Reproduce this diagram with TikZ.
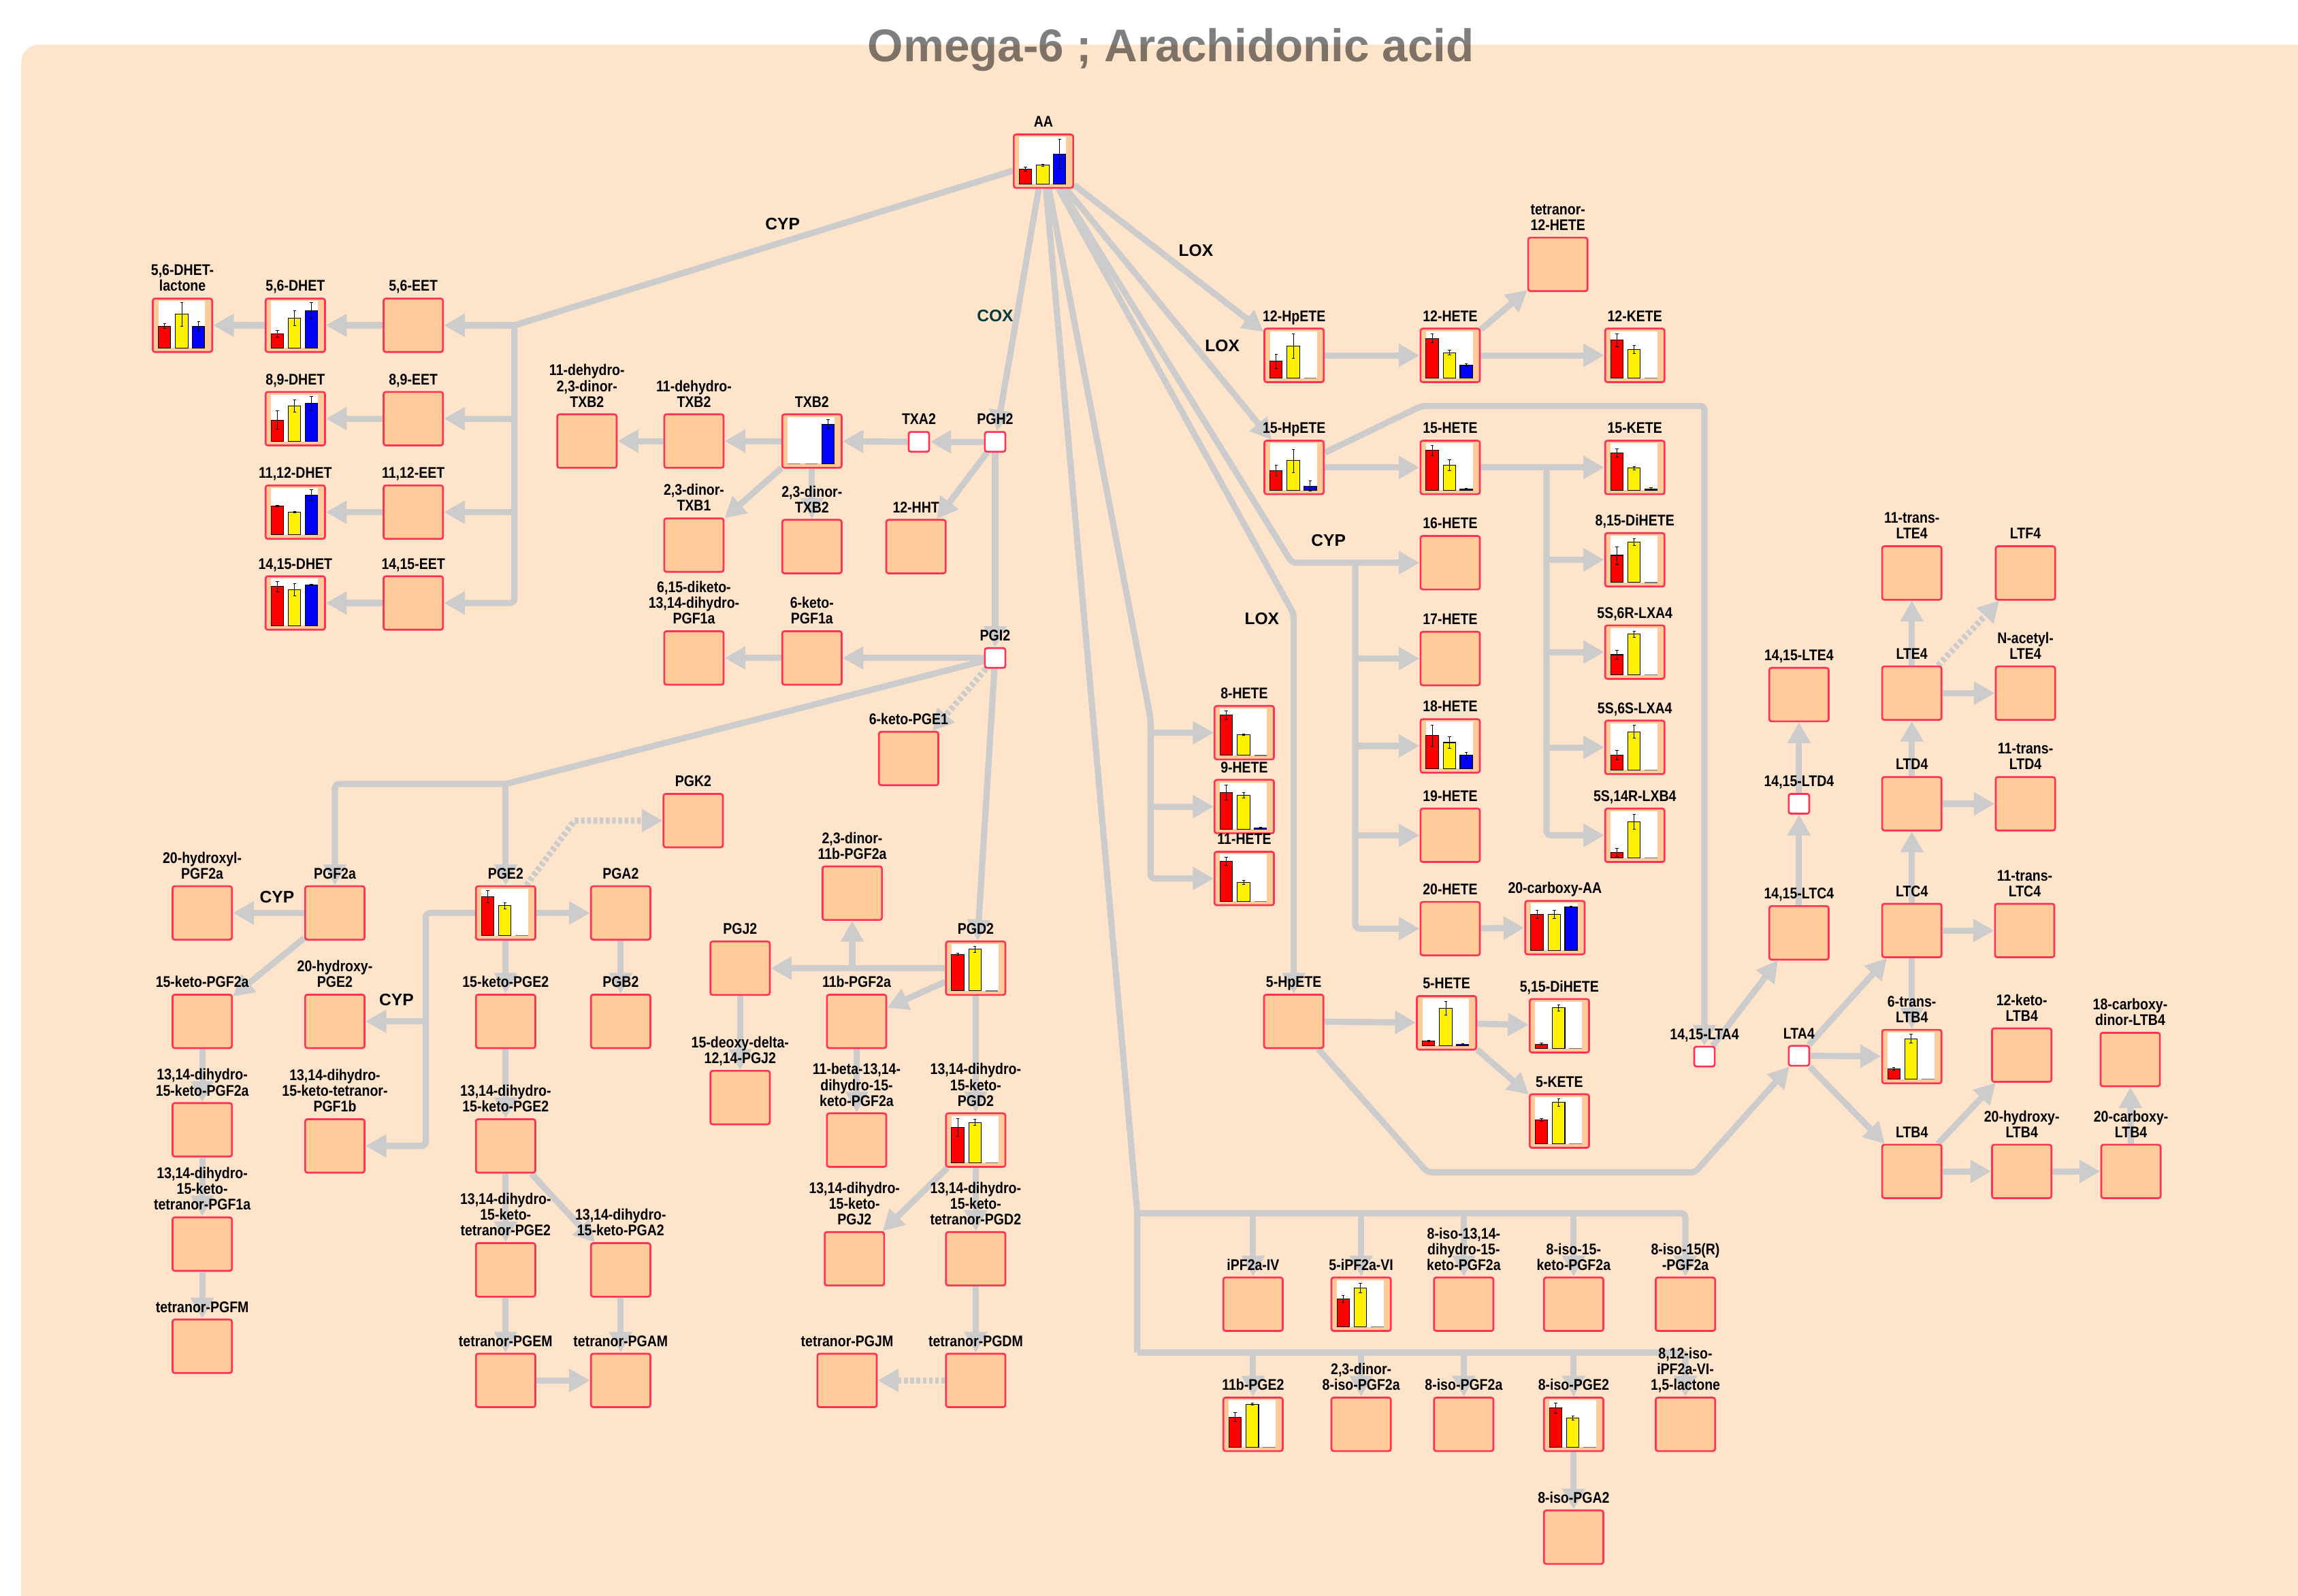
\documentclass[tikz,border=0pt]{standalone}
\usepackage{fontspec}
\setmainfont{Liberation Sans}
\newfontfamily\lblfont{Liberation Sans}[FakeStretch=0.86]
\usetikzlibrary{arrows.meta}
\definecolor{bgpeach}{HTML}{FEE4CB}
\definecolor{boxfill}{HTML}{FFCB99}
\definecolor{boxred}{HTML}{FF3355}
\definecolor{flowgrey}{HTML}{CCCCCC}
\definecolor{coxteal}{HTML}{0B3A3A}
\pgfdeclarelayer{bg}
\pgfdeclarelayer{edges}
\pgfsetlayers{bg,edges,main}
\tikzset{
	met/.style={draw=boxred, fill=boxfill, line width=0.25mm, rounded corners=0.3mm, minimum width=8.1mm, minimum height=7.3mm, inner sep=0pt},
	hub/.style={draw=boxred, fill=white, line width=0.25mm, rounded corners=0.3mm, minimum width=2.8mm, minimum height=2.7mm, inner sep=0pt},
	lbl/.style={font=\lblfont\bfseries\fontsize{6pt}{6.1pt}\selectfont, align=center, inner sep=0pt, text depth=0pt},
	enz/.style={font=\bfseries\fontsize{6.5pt}{7pt}\selectfont, inner sep=0pt},
	link/.style={draw=flowgrey, line width=0.85mm},
	corner/.style={rounded corners=0.6mm},
	flow/.style={link, -{Triangle[length=2.85mm, width=3mm]}},
	dflow/.style={flow, dash pattern=on 0.5mm off 0.35mm}
}
\newcommand{\onebar}[4]{%
	\ifdim #2pt>0.05pt
		\filldraw[fill=#4, draw=black, line width=0.1mm] (#1,15.5) rectangle ++(8.5,-#2);
		\draw[line width=0.07mm] ({#1+4.25},{15.5-#2-#3}) -- ({#1+4.25},{15.5-#2+#3})
			({#1+3.25},{15.5-#2-#3}) -- ({#1+5.25},{15.5-#2-#3})
			({#1+3.25},{15.5-#2+#3}) -- ({#1+5.25},{15.5-#2+#3});
	\else
		\draw[black!55, line width=0.12mm] (#1,15.5) -- ++(8.5,0);
	\fi}
\newcommand{\barpanel}[7]{%
	\begin{scope}[shift={(#1.center)}]
		\fill[white] (-16.5,-16.5) rectangle (15.5,15.5);
		\onebar{-16.5}{#2}{#3}{red}
		\onebar{-4.75}{#4}{#5}{yellow}
		\onebar{6.75}{#6}{#7}{blue}
	\end{scope}}
\begin{document}
\begin{tikzpicture}[x=0.2mm, y=-0.2mm, label distance=0.8mm]
	\useasboundingbox (0,0) rectangle (1568,1089);
	\begin{pgfonlayer}{bg}
		\fill[white] (0,0) rectangle (1568,1089);
		\fill[bgpeach, rounded corners=2.4mm] (14.5,30.5) rectangle (1620,1140);
	\end{pgfonlayer}
	\node[met, label={[lbl]above:{AA}}] (aa) at (712,110) {};
	\node[met, label={[lbl]above:{5,6-DHET-\\lactone}}] (dhet56l) at (124.5,222) {};
	\node[met, label={[lbl]above:{5,6-DHET}}] (dhet56) at (201.5,222) {};
	\node[met, label={[lbl]above:{5,6-EET}}] (eet56) at (282,222) {};
	\node[met, label={[lbl]above:{8,9-DHET}}] (dhet89) at (201.5,285.7) {};
	\node[met, label={[lbl]above:{8,9-EET}}] (eet89) at (282,285.7) {};
	\node[met, label={[lbl]above:{11,12-DHET}}] (dhet1112) at (201.5,349.5) {};
	\node[met, label={[lbl]above:{11,12-EET}}] (eet1112) at (282,349.5) {};
	\node[met, label={[lbl]above:{14,15-DHET}}] (dhet1415) at (201.5,411.5) {};
	\node[met, label={[lbl]above:{14,15-EET}}] (eet1415) at (282,411.5) {};
	\node[met, label={[lbl]above:{11-dehydro-\\2,3-dinor-\\TXB2}}] (dhdtxb2) at (400.5,301) {};
	\node[met, label={[lbl]above:{11-dehydro-\\TXB2}}] (dhtxb2) at (473.5,301) {};
	\node[met, label={[lbl]above:{TXB2}}] (txb2) at (554,301) {};
	\node[hub, label={[lbl]above:{TXA2}}] (txa2) at (627,301.5) {};
	\node[hub, label={[lbl]above:{PGH2}}] (pgh2) at (679,301.5) {};
	\node[met, label={[lbl]above:{2,3-dinor-\\TXB1}}] (dtxb1) at (473.5,372) {};
	\node[met, label={[lbl]above:{2,3-dinor-\\TXB2}}] (dtxb2) at (554,373) {};
	\node[met, label={[lbl]above:{12-HHT}}] (hht) at (625,373) {};
	\node[met, label={[lbl]above:{6,15-diketo-\\13,14-dihydro-\\PGF1a}}] (dkpgf1a) at (473.5,449) {};
	\node[met, label={[lbl]above:{6-keto-\\PGF1a}}] (kpgf1a) at (554,449) {};
	\node[hub, label={[lbl]above:{PGI2}}] (pgi2) at (679,449) {};
	\node[met, label={[lbl]above:{6-keto-PGE1}}] (kpge1) at (620,517.6) {};
	\node[met, label={[lbl]above:{PGK2}}] (pgk2) at (473,560) {};
	\node[met, label={[lbl]above:{20-hydroxyl-\\PGF2a}}] (ohpgf2a) at (138,623) {};
	\node[met, label={[lbl]above:{PGF2a}}] (pgf2a) at (228.5,623) {};
	\node[met, label={[lbl]above:{PGE2}}] (pge2) at (345,623) {};
	\node[met, label={[lbl]above:{PGA2}}] (pga2) at (423.5,623) {};
	\node[met, label={[lbl]above:{15-keto-PGF2a}}] (kpgf2a) at (138,697) {};
	\node[met, label={[lbl]above:{20-hydroxy-\\PGE2}}] (ohpge2) at (228.5,697) {};
	\node[met, label={[lbl]above:{15-keto-PGE2}}] (kpge2) at (345,697) {};
	\node[met, label={[lbl]above:{PGB2}}] (pgb2) at (423.5,697) {};
	\node[met, label={[lbl]above:{13,14-dihydro-\\15-keto-PGF2a}}] (dkpgf2a) at (138,771) {};
	\node[met, label={[lbl]above:{13,14-dihydro-\\15-keto-tetranor-\\PGF1b}}] (tpgf1b) at (228.5,782) {};
	\node[met, label={[lbl]above:{13,14-dihydro-\\15-keto-PGE2}}] (dkpge2) at (345,782) {};
	\node[met, label={[lbl]above:{13,14-dihydro-\\15-keto-\\tetranor-PGF1a}}] (tpgf1a) at (138,849) {};
	\node[met, label={[lbl]above:{13,14-dihydro-\\15-keto-\\tetranor-PGE2}}] (tpge2) at (345,866.6) {};
	\node[met, label={[lbl]above:{13,14-dihydro-\\15-keto-PGA2}}] (dkpga2) at (423.5,866.6) {};
	\node[met, label={[lbl]above:{tetranor-PGFM}}] (pgfm) at (138,918.7) {};
	\node[met, label={[lbl]above:{tetranor-PGEM}}] (pgem) at (345,942) {};
	\node[met, label={[lbl]above:{tetranor-PGAM}}] (pgam) at (423.5,942) {};
	\node[met, label={[lbl]above:{2,3-dinor-\\11b-PGF2a}}] (d11bpgf) at (581.5,609.5) {};
	\node[met, label={[lbl]above:{PGJ2}}] (pgj2) at (505,660.7) {};
	\node[met, label={[lbl]above:{PGD2}}] (pgd2) at (665.75,660.7) {};
	\node[met, label={[lbl]above:{11b-PGF2a}}] (b11pgf) at (584.5,697) {};
	\node[met, label={[lbl]above:{15-deoxy-delta-\\12,14-PGJ2}}] (dpgj2) at (505,749) {};
	\node[met, label={[lbl]above:{11-beta-13,14-\\dihydro-15-\\keto-PGF2a}}] (b11dk) at (584.5,778) {};
	\node[met, label={[lbl]above:{13,14-dihydro-\\15-keto-\\PGD2}}] (dkpgd2) at (665.75,778) {};
	\node[met, label={[lbl]above:{13,14-dihydro-\\15-keto-\\PGJ2}}] (dkpgj2) at (583,859) {};
	\node[met, label={[lbl]above:{13,14-dihydro-\\15-keto-\\tetranor-PGD2}}] (tpgd2) at (665.75,859) {};
	\node[met, label={[lbl]above:{tetranor-PGJM}}] (pgjm) at (578,942) {};
	\node[met, label={[lbl]above:{tetranor-PGDM}}] (pgdm) at (665.75,942) {};
	\node[met, label={[lbl]above:{12-HpETE}}] (hpete12) at (883,242.5) {};
	\node[met, label={[lbl]above:{12-HETE}}] (hete12) at (989.5,242.5) {};
	\node[met, label={[lbl]above:{12-KETE}}] (kete12) at (1115.5,242.5) {};
	\node[met, label={[lbl]above:{tetranor-\\12-HETE}}] (thete12) at (1063,180.4) {};
	\node[met, label={[lbl]above:{15-HpETE}}] (hpete15) at (883,319) {};
	\node[met, label={[lbl]above:{15-HETE}}] (hete15) at (989.5,319) {};
	\node[met, label={[lbl]above:{15-KETE}}] (kete15) at (1115.5,319) {};
	\node[met, label={[lbl]above:{16-HETE}}] (hete16) at (989.5,384) {};
	\node[met, label={[lbl]above:{17-HETE}}] (hete17) at (989.5,449.4) {};
	\node[met, label={[lbl]above:{18-HETE}}] (hete18) at (989.5,509) {};
	\node[met, label={[lbl]above:{19-HETE}}] (hete19) at (989.5,570) {};
	\node[met, label={[lbl]above:{20-HETE}}] (hete20) at (989.5,633.7) {};
	\node[met, label={[lbl]above:{20-carboxy-AA}}] (caa) at (1061,633) {};
	\node[met, label={[lbl]above:{8,15-DiHETE}}] (dihete815) at (1115.5,382) {};
	\node[met, label={[lbl]above:{5S,6R-LXA4}}] (lxa4r) at (1115.5,445) {};
	\node[met, label={[lbl]above:{5S,6S-LXA4}}] (lxa4s) at (1115.5,510) {};
	\node[met, label={[lbl]above:{5S,14R-LXB4}}] (lxb4) at (1115.5,570) {};
	\node[met, label={[lbl]above:{8-HETE}}] (hete8) at (849,500) {};
	\node[met, label={[lbl]above:{9-HETE}}] (hete9) at (849,550.4) {};
	\node[met, label={[lbl]above:{11-HETE}}] (hete11) at (849,599.5) {};
	\node[met, label={[lbl]above:{5-HpETE}}] (hpete5) at (882.75,697) {};
	\node[met, label={[lbl]above:{5-HETE}}] (hete5) at (987,698) {};
	\node[met, label={[lbl]above:{5,15-DiHETE}}] (dihete515) at (1064,700) {};
	\node[met, label={[lbl]above:{5-KETE}}] (kete5) at (1064,765) {};
	\node[hub, label={[lbl]above:{14,15-LTA4}}] (lta4b) at (1163,721) {};
	\node[hub, label={[lbl]above:{LTA4}}] (lta4) at (1227.5,720.5) {};
	\node[met, label={[lbl]above:{14,15-LTC4}}] (ltc4b) at (1227.5,636.6) {};
	\node[hub, label={[lbl]above:{14,15-LTD4}}] (ltd4b) at (1227.5,548.5) {};
	\node[met, label={[lbl]above:{14,15-LTE4}}] (lte4b) at (1227.5,474) {};
	\node[met, label={[lbl]above:{11-trans-\\LTE4}}] (tlte4) at (1304.5,391) {};
	\node[met, label={[lbl]above:{LTF4}}] (ltf4) at (1382,391) {};
	\node[met, label={[lbl]above:{LTE4}}] (lte4) at (1304.5,473) {};
	\node[met, label={[lbl]above:{N-acetyl-\\LTE4}}] (nlte4) at (1382,473) {};
	\node[met, label={[lbl]above:{LTD4}}] (ltd4) at (1304.5,548.5) {};
	\node[met, label={[lbl]above:{11-trans-\\LTD4}}] (tltd4) at (1382,548.5) {};
	\node[met, label={[lbl]above:{LTC4}}] (ltc4) at (1304.5,635) {};
	\node[met, label={[lbl]above:{11-trans-\\LTC4}}] (tltc4) at (1381.5,635) {};
	\node[met, label={[lbl]above:{6-trans-\\LTB4}}] (tltb4) at (1304.5,721) {};
	\node[met, label={[lbl]above:{12-keto-\\LTB4}}] (kltb4) at (1379.5,720) {};
	\node[met, label={[lbl]above:{18-carboxy-\\dinor-LTB4}}] (cdltb4) at (1453.5,723) {};
	\node[met, label={[lbl]above:{LTB4}}] (ltb4) at (1304.5,799.4) {};
	\node[met, label={[lbl]above:{20-hydroxy-\\LTB4}}] (hltb4) at (1379.5,799.4) {};
	\node[met, label={[lbl]above:{20-carboxy-\\LTB4}}] (cltb4) at (1454,799.4) {};
	\node[met, label={[lbl]above:{iPF2a-IV}}] (ipa) at (855,890) {};
	\node[met, label={[lbl]above:{5-iPF2a-VI}}] (ipb) at (928.75,890) {};
	\node[met, label={[lbl]above:{8-iso-13,14-\\dihydro-15-\\keto-PGF2a}}] (ipc) at (998.75,890) {};
	\node[met, label={[lbl]above:{8-iso-15-\\keto-PGF2a}}] (ipd) at (1073.75,890) {};
	\node[met, label={[lbl]above:{8-iso-15(R)\\-PGF2a}}] (ipe) at (1150,890) {};
	\node[met, label={[lbl]above:{11b-PGE2}}] (iqa) at (855,972) {};
	\node[met, label={[lbl]above:{2,3-dinor-\\8-iso-PGF2a}}] (iqb) at (928.75,972) {};
	\node[met, label={[lbl]above:{8-iso-PGF2a}}] (iqc) at (998.75,972) {};
	\node[met, label={[lbl]above:{8-iso-PGE2}}] (iqd) at (1073.75,972) {};
	\node[met, label={[lbl]above:{8,12-iso-\\iPF2a-VI-\\1,5-lactone}}] (iqe) at (1150,972) {};
	\node[met, label={[lbl]above:{8-iso-PGA2}}] (isopga2) at (1073.75,1049) {};
	\node[enz] (cyp1) at (534,153) {CYP};
	\node[enz, text=coxteal] (cox) at (679,215.5) {COX};
	\node[enz] (lox1) at (816,171) {LOX};
	\node[enz] (lox2) at (834,236) {LOX};
	\node[enz] (cyp3) at (906.5,369) {CYP};
	\node[enz] (lox3) at (861,422) {LOX};
	\node[enz] (cyp4) at (189,612) {CYP};
	\node[enz] (cyp5) at (270.5,682.5) {CYP};
	\coordinate (cypj) at (351,222);
	\coordinate (pgej) at (345,535);
	\coordinate (cypk) at (290.5,623);
	\coordinate (pgkj) at (392,560);
	\coordinate (dihj) at (1055.25,319);
	\coordinate (ltbj) at (970,277);
	\coordinate (cyp3j) at (881.5,384);
	\coordinate (hetj) at (924.75,384);
	\coordinate (lox3j) at (882.75,419);
	\coordinate (hetej) at (785,490);
	\coordinate (lta1) at (974,800);
	\coordinate (lta2) at (1156.5,800);
	\coordinate (isoj) at (776,828);
	\coordinate (isok) at (776,923);
	\begin{pgfonlayer}{edges}
		\draw[link] (aa) -- (cypj);
		\draw[flow] (cypj) -- (eet56);
		\draw[flow, corner] (cypj) |- (eet1415);
		\draw[flow] (cypj |- eet89) -- (eet89);
		\draw[flow] (cypj |- eet1112) -- (eet1112);
		\draw[flow] (eet56) -- (dhet56);
		\draw[flow] (dhet56) -- (dhet56l);
		\draw[flow] (eet89) -- (dhet89);
		\draw[flow] (eet1112) -- (dhet1112);
		\draw[flow] (eet1415) -- (dhet1415);
		\draw[flow] (aa) -- (pgh2);
		\draw[flow] (pgh2) -- (txa2);
		\draw[flow] (txa2) -- (txb2);
		\draw[flow] (txb2) -- (dhtxb2);
		\draw[flow] (dhtxb2) -- (dhdtxb2);
		\draw[flow] (txb2) -- (dtxb1);
		\draw[flow] (txb2) -- (dtxb2);
		\draw[flow] (pgh2) -- (hht);
		\draw[flow] (pgh2) -- (pgi2);
		\draw[flow] (pgi2) -- (kpgf1a);
		\draw[flow] (kpgf1a) -- (dkpgf1a);
		\draw[dflow] (pgi2) -- (kpge1);
		\draw[flow] (pgi2) -- (pgd2);
		\draw[link] (pgi2) -- (pgej);
		\draw[flow, corner] (pgej) -| (pgf2a);
		\draw[flow] (pgej) -- (pge2);
		\draw[flow] (pgf2a) -- (ohpgf2a);
		\draw[flow] (pgf2a) -- (kpgf2a);
		\draw[flow] (kpgf2a) -- (dkpgf2a);
		\draw[flow] (dkpgf2a) -- (tpgf1a);
		\draw[flow] (tpgf1a) -- (pgfm);
		\draw[flow, corner] (pge2) -- (cypk) |- (tpgf1b);
		\draw[flow] (cypk |- ohpge2) -- (ohpge2);
		\draw[flow] (pge2) -- (pga2);
		\draw[flow] (pga2) -- (pgb2);
		\draw[flow] (pge2) -- (kpge2);
		\draw[flow] (kpge2) -- (dkpge2);
		\draw[flow] (dkpge2) -- (tpge2);
		\draw[flow] (tpge2) -- (pgem);
		\draw[flow] (dkpge2) -- (dkpga2);
		\draw[flow] (dkpga2) -- (pgam);
		\draw[flow] (pgem) -- (pgam);
		\draw[dflow] (pge2) -- (pgkj) -- (pgk2);
		\draw[flow] (pgd2) -- (pgj2);
		\draw[flow] (d11bpgf |- pgd2) -- (d11bpgf);
		\draw[flow] (pgd2) -- (b11pgf);
		\draw[flow] (pgj2) -- (dpgj2);
		\draw[flow] (b11pgf) -- (b11dk);
		\draw[flow] (pgd2) -- (dkpgd2);
		\draw[flow] (dkpgd2) -- (dkpgj2);
		\draw[flow] (dkpgd2) -- (tpgd2);
		\draw[flow] (tpgd2) -- (pgdm);
		\draw[dflow] (pgdm) -- (pgjm);
		\draw[flow] (aa) -- (hpete12);
		\draw[flow] (aa) -- (hpete15);
		\draw[flow] (hpete12) -- (hete12);
		\draw[flow] (hete12) -- (kete12);
		\draw[flow] (hete12) -- (thete12);
		\draw[flow] (hpete15) -- (hete15);
		\draw[flow] (hete15) -- (kete15);
		\draw[flow, corner] (dihj) |- (lxb4);
		\draw[flow] (dihj |- dihete815) -- (dihete815);
		\draw[flow] (dihj |- lxa4r) -- (lxa4r);
		\draw[flow] (dihj |- lxa4s) -- (lxa4s);
		\draw[flow, corner] (hpete15) -- (ltbj) -| (lta4b);
		\draw[flow, corner] (aa) -- (cyp3j) -- (hete16);
		\draw[flow, corner] (hetj) |- (hete20);
		\draw[flow] (hetj |- hete17) -- (hete17);
		\draw[flow] (hetj |- hete18) -- (hete18);
		\draw[flow] (hetj |- hete19) -- (hete19);
		\draw[flow] (hete20) -- (caa);
		\draw[flow, corner] (aa) -- (lox3j) -- (hpete5);
		\draw[flow, corner] (aa) -- (hetej) |- (hete11);
		\draw[flow] (hetej |- hete8) -- (hete8);
		\draw[flow] (hetej |- hete9) -- (hete9);
		\draw[flow] (hpete5) -- (hete5);
		\draw[flow] (hete5) -- (dihete515);
		\draw[flow] (hete5) -- (kete5);
		\draw[flow, corner] (hpete5) -- (lta1) -- (lta2) -- (lta4);
		\draw[flow] (lta4b) -- (ltc4b);
		\draw[flow] (ltc4b) -- (ltd4b);
		\draw[flow] (ltd4b) -- (lte4b);
		\draw[flow] (lta4) -- (ltc4);
		\draw[flow] (lta4) -- (tltb4);
		\draw[flow] (lta4) -- (ltb4);
		\draw[flow] (ltc4) -- (ltd4);
		\draw[flow] (ltd4) -- (lte4);
		\draw[flow] (lte4) -- (tlte4);
		\draw[dflow] (lte4) -- (ltf4);
		\draw[flow] (lte4) -- (nlte4);
		\draw[flow] (ltd4) -- (tltd4);
		\draw[flow] (ltc4) -- (tltc4);
		\draw[flow] (ltc4) -- (tltb4);
		\draw[flow] (ltb4) -- (kltb4);
		\draw[flow] (ltb4) -- (hltb4);
		\draw[flow] (hltb4) -- (cltb4);
		\draw[flow] (cltb4) -- (cdltb4);
		\draw[link, corner] (aa) -- (isoj) -- (isok);
		\draw[flow, corner] (isoj) -| (ipe);
		\draw[flow, corner] (isok) -| (iqe);
		\draw[flow] (ipa |- isoj) -- (ipa);
		\draw[flow] (ipb |- isoj) -- (ipb);
		\draw[flow] (ipc |- isoj) -- (ipc);
		\draw[flow] (ipd |- isoj) -- (ipd);
		\draw[flow] (iqa |- isok) -- (iqa);
		\draw[flow] (iqb |- isok) -- (iqb);
		\draw[flow] (iqc |- isok) -- (iqc);
		\draw[flow] (iqd |- isok) -- (iqd);
		\draw[flow] (iqd) -- (isopga2);
	\end{pgfonlayer}
	\barpanel{aa}{10}{1.4}{12.7}{0.5}{20.4}{10}
	\barpanel{dhet56l}{15}{1.7}{23}{8}{15}{3.2}
	\barpanel{dhet56}{9.7}{2.4}{20.4}{5}{25.5}{5.4}
	\barpanel{dhet89}{14.6}{6.3}{24.3}{4.2}{26}{4.8}
	\barpanel{dhet1112}{19.9}{0.5}{15.7}{0.4}{27.3}{3.7}
	\barpanel{dhet1415}{26.7}{3.5}{24.6}{4}{27.9}{0.5}
	\barpanel{txb2}{0}{0}{0}{0}{27.1}{3}
	\barpanel{pge2}{26.7}{4}{20.4}{2}{0}{0}
	\barpanel{pgd2}{25}{0.7}{28.5}{2}{0}{0}
	\barpanel{dkpgd2}{24.3}{6}{27.6}{2}{0}{0}
	\barpanel{hpete12}{11.6}{4.9}{21.8}{8.3}{0}{0}
	\barpanel{hete12}{27.1}{3}{17.4}{1.6}{8.8}{1}
	\barpanel{kete12}{26}{4.4}{19.7}{2.8}{0}{0}
	\barpanel{hpete15}{13.4}{3.6}{20.1}{7.9}{2.8}{3.5}
	\barpanel{hete15}{27.1}{3.5}{16.9}{3.7}{1}{0.3}
	\barpanel{kete15}{25.5}{2.7}{15}{1}{1}{0.8}
	\barpanel{dihete815}{18.5}{6}{27.5}{2.4}{0}{0}
	\barpanel{lxa4r}{13.7}{2.9}{27.8}{2}{0}{0}
	\barpanel{lxa4s}{10.4}{3.2}{26.2}{4.3}{0}{0}
	\barpanel{lxb4}{3.9}{2.9}{24.8}{5.2}{0}{0}
	\barpanel{hete8}{27.4}{2.9}{14.2}{0.5}{0}{0}
	\barpanel{hete9}{25}{5}{23.4}{1.9}{1}{0.3}
	\barpanel{hete11}{27.4}{2.8}{13}{1.4}{0}{0}
	\barpanel{hete18}{22.7}{7.2}{17.8}{4}{9}{1.9}
	\barpanel{caa}{24.6}{2.7}{24.6}{2.7}{29.7}{0.5}
	\barpanel{hete5}{3}{0.5}{25.5}{4.6}{1}{0.3}
	\barpanel{dihete515}{3}{0.7}{27.8}{2}{0}{0}
	\barpanel{kete5}{16.2}{1}{28.3}{2.5}{0}{0}
	\barpanel{ipb}{19.2}{2.3}{26.6}{3.2}{0}{0}
	\barpanel{iqa}{20.4}{3}{29.2}{0.7}{0}{0}
	\barpanel{iqd}{26.7}{3.5}{19.7}{1.4}{0}{0}
	\barpanel{tltb4}{7}{1}{27.7}{3}{0}{0}
	\node[font=\bfseries\fontsize{17.8pt}{20pt}\selectfont, text=black, text opacity=0.5, anchor=base, inner sep=0pt] (title) at (799,42) {Omega-6 ; Arachidonic acid};
\end{tikzpicture}
\end{document}
